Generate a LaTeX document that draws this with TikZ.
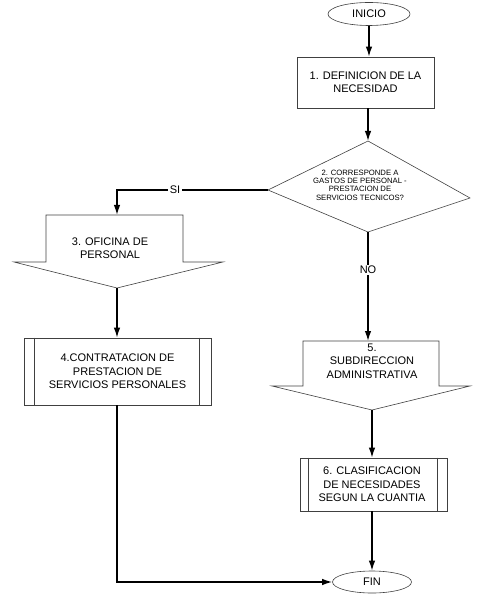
\documentclass[tikz,border=0pt]{standalone}
\usepackage{fontspec}
\setmainfont{Liberation Sans}
\usetikzlibrary{arrows.meta,shapes.geometric}
\begin{document}
\begin{tikzpicture}[x=1pt,y=-1pt,
  shp/.style={draw=black!75, line width=0.6pt},
  txt/.style={align=center, font=\fontsize{11}{13.3}\selectfont, inner sep=0pt},
  smalltxt/.style={align=center, font=\fontsize{7.7}{8.3}\selectfont, inner sep=0pt},
  conn/.style={draw=black, line width=1.4pt, -{Latex[length=10pt,width=6.5pt]}},
  term/.style={shp, ellipse, inner sep=0pt, font=\fontsize{11}{13.3}\selectfont},
  proc/.style={shp, rectangle, inner sep=0pt, align=center, font=\fontsize{11}{13.3}\selectfont},
  lbl/.style={fill=white, inner sep=1.5pt, font=\fontsize{11}{13.3}\selectfont}
]
\useasboundingbox (0,0) rectangle (479,601);

% terminals
\node[term, minimum width=82pt, minimum height=23pt] (inicio) at (369,14) {INICIO};
\node[term, minimum width=79pt, minimum height=22pt] (fin) at (372,582) {FIN};

% box 1
\node[proc, minimum width=137pt, minimum height=51pt] (p1) at (365.5,82.5) {1. DEFINICION DE LA\\NECESIDAD};

% decision diamond
\coordinate (dT) at (368,141);
\coordinate (dR) at (470,198);
\coordinate (dB) at (368,232);
\coordinate (dL) at (268,190);
\draw[shp] (dT) -- (dR) -- (dB) -- (dL) -- cycle;
\node[smalltxt] (dq) at (360,185) {2. CORRESPONDE A\\GASTOS DE PERSONAL -\\PRESTACION DE\\SERVICIOS TECNICOS?};

% box 3 (off-page shape)
\coordinate (c3top) at (117,215);
\coordinate (c3pt) at (117,288);
\draw[shp] (46,215) -- (183,215) -- (183,262) -- (223,262) -- (c3pt) -- (14,262) -- (46,262) -- cycle;
\node[txt] (p3) at (110,248.5) {3. OFICINA DE\\PERSONAL};

% box 4 (predefined process)
\node[proc, minimum width=187pt, minimum height=67pt] (p4) at (117.5,371.5) {4.CONTRATACION DE\\PRESTACION DE\\SERVICIOS PERSONALES};
\draw[shp] ([xshift=11pt]p4.north west) -- ([xshift=11pt]p4.south west);
\draw[shp] ([xshift=-12pt]p4.north east) -- ([xshift=-12pt]p4.south east);

% box 5 (off-page shape)
\coordinate (c5top) at (368,341);
\coordinate (c5pt) at (372,410);
\draw[shp] (303,341) -- (439,341) -- (439,386) -- (470,386) -- (c5pt) -- (272,386) -- (303,386) -- cycle;
\node[txt] (p5) at (372,361) {5.\\SUBDIRECCION\\ADMINISTRATIVA};

% box 6 (predefined process)
\node[proc, minimum width=147pt, minimum height=53pt] (p6) at (373.5,484.5) {\hspace*{-3pt}6. CLASIFICACION\\\hspace*{-3pt}DE NECESIDADES\\\hspace*{-3pt}SEGUN LA CUANTIA};
\draw[shp] ([xshift=9pt]p6.north west) -- ([xshift=9pt]p6.south west);
\draw[shp] ([xshift=-10pt]p6.north east) -- ([xshift=-10pt]p6.south east);

% connectors
\draw[conn] (inicio.south) -- (inicio.south |- p1.north);
\draw[conn] (p1.south -| dT) -- (dT);
\draw[conn] (dL) -| (c3top);
\node[lbl] (si) at (175,190) {SI};
\draw[conn] (c3pt) -- (c3pt |- p4.north);
\draw[conn] (p4.south -| c3pt) |- (fin.west);
\draw[conn] (dB) -- (c5top);
\node[lbl] (no) at (368,270) {NO};
\draw[conn] (c5pt) -- (c5pt |- p6.north);
\draw[conn] (fin.north |- p6.south) -- (fin.north);
\end{tikzpicture}
\end{document}
